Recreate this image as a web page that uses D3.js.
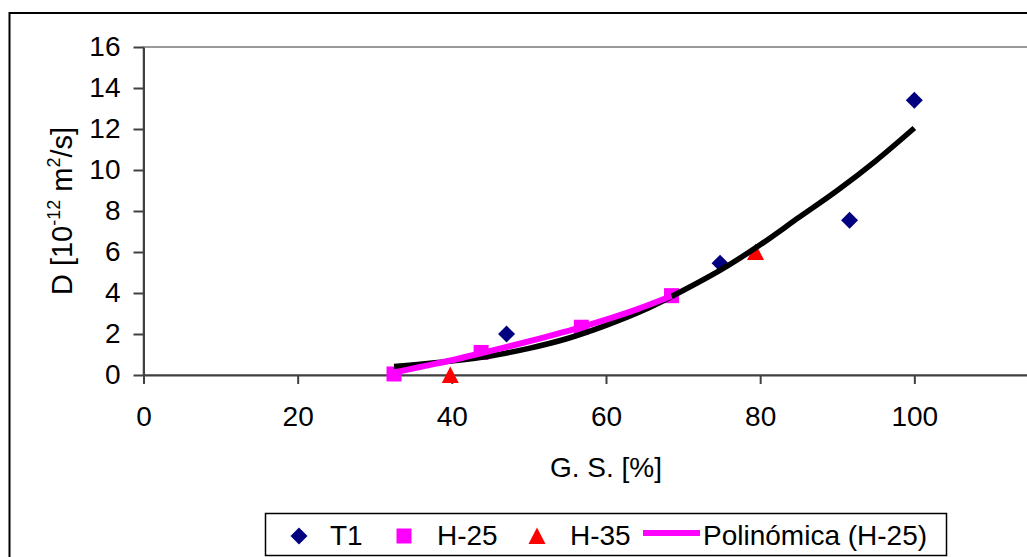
<!DOCTYPE html>
<html><head><meta charset="utf-8">
<script src="https://cdn.jsdelivr.net/npm/d3@7"></script>
<style>
html,body{margin:0;padding:0;background:#fff;overflow:hidden;}
text{font-family:"Liberation Sans",Arial,sans-serif;fill:#000;}
</style></head>
<body>
<script>
// ---- data ----
const t1X = [47.1, 74.8, 91.6, 100];
const t1Y = [2.0, 5.45, 7.55, 13.4];
const h25X = [32.5, 43.8, 56.8, 68.5];
const h25Y = [0.05, 1.1, 2.33, 3.87];
const h35X = [39.8, 79.4];
const h35Y = [0.0, 6.0];
// black trendline, points
const trendAllX = [32.5, 40, 45, 50, 55, 60, 65, 70, 75, 80, 85, 90, 95, 100];
const trendAllY = [0.41, 0.68, 0.93, 1.30, 1.78, 2.42, 3.18, 4.12, 5.15, 6.35, 7.68, 9.00, 10.45, 12.05];
// magenta trendline "Polinómica (H-25)"
const trendH25X = [32.5, 36, 40, 44, 48, 52, 56, 60, 64, 68.5];
const trendH25Y = [0.12, 0.40, 0.72, 1.08, 1.45, 1.84, 2.25, 2.70, 3.20, 3.85];
const xTicks = [0, 20, 40, 60, 80, 100];
const yTicks = [0, 2, 4, 6, 8, 10, 12, 14, 16];
const legendLabels = ["T1", "H-25", "H-35", "Polinómica (H-25)"];

const W = 1027, H = 557;
const svg = d3.select("body").append("svg").attr("width", W).attr("height", H);
svg.append("rect").attr("width", W).attr("height", H).attr("fill", "#fff");
// outer chart border
svg.append("rect").attr("x", 9.5).attr("y", 13).attr("width", 1100).attr("height", 600)
  .attr("fill", "none").attr("stroke", "#000").attr("stroke-width", 2);

const x = d3.scaleLinear().domain([0, 120]).range([143.5, 1068.5]);
const y = d3.scaleLinear().domain([0, 16]).range([375, 47]);

// plot area border (gray)
svg.append("rect").attr("x", x(0)).attr("y", y(16)).attr("width", x(120) - x(0)).attr("height", y(0) - y(16))
  .attr("fill", "none").attr("stroke", "#999").attr("stroke-width", 2);

const fs = 28;
const yAxis = svg.append("g").attr("transform", `translate(${x(0)},0)`)
  .call(d3.axisLeft(y).tickValues(yTicks).tickSize(10).tickSizeOuter(0).tickPadding(13));
const xAxis = svg.append("g").attr("transform", `translate(0,${y(0)})`)
  .call(d3.axisBottom(x).tickValues(xTicks).tickSize(9).tickSizeOuter(0).tickPadding(22));
[yAxis, xAxis].forEach(g => {
  g.select(".domain").attr("stroke", "#404040").attr("stroke-width", 2);
  g.selectAll(".tick line").attr("stroke", "#404040").attr("stroke-width", 2);
  g.selectAll(".tick text").attr("font-size", fs).attr("font-family", "Liberation Sans, Arial").attr("fill", "#000");
});

// axis titles
svg.append("text").attr("x", 606).attr("y", 477).attr("text-anchor", "middle").attr("font-size", fs)
  .text("G. S. [%]");
const yl = svg.append("text").attr("transform", "translate(72,211) rotate(-90)")
  .attr("text-anchor", "middle").attr("font-size", 29);
yl.append("tspan").text("D [10");
yl.append("tspan").attr("font-size", 18).attr("dy", -12).text("-12");
yl.append("tspan").attr("dy", 12).text(" m");
yl.append("tspan").attr("font-size", 18).attr("dy", -12).text("2");
yl.append("tspan").attr("dy", 12).text("/s]");

// marker shapes
const diamond = "M0,-8.5L8.5,0L0,8.5L-8.5,0Z";
const triangle = "M0,-8.5L8.5,8L-8.5,8Z";
const NAVY = "#000080", MAG = "#ff00ff", RED = "#ff0000";

const plot = svg.append("g");
plot.selectAll(".t1").data(d3.range(t1X.length)).join("path")
  .attr("d", diamond).attr("fill", NAVY)
  .attr("transform", i => `translate(${x(t1X[i])},${y(t1Y[i])})`);
plot.selectAll(".h25").data(d3.range(h25X.length)).join("rect")
  .attr("x", i => x(h25X[i]) - 7.5).attr("y", i => y(h25Y[i]) - 7.5)
  .attr("width", 15).attr("height", 15).attr("fill", MAG);
plot.selectAll(".h35").data(d3.range(h35X.length)).join("path")
  .attr("d", triangle).attr("fill", RED)
  .attr("transform", i => `translate(${x(h35X[i])},${y(h35Y[i])})`);

const line = d3.line().x(d => x(d[0])).y(d => y(d[1])).curve(d3.curveMonotoneX);
plot.append("path").datum(trendAllX.map((v, i) => [v, trendAllY[i]]))
  .attr("d", line).attr("fill", "none").attr("stroke", "#000").attr("stroke-width", 5.5);
plot.append("path").datum(trendH25X.map((v, i) => [v, trendH25Y[i]]))
  .attr("d", line).attr("fill", "none").attr("stroke", MAG).attr("stroke-width", 6);

// legend
const lg = svg.append("g");
lg.append("rect").attr("x", 265.5).attr("y", 513.5).attr("width", 681).attr("height", 42)
  .attr("fill", "#fff").attr("stroke", "#000").attr("stroke-width", 1.5);
const ly = 536;
lg.append("path").attr("d", diamond).attr("fill", NAVY).attr("transform", `translate(299,${ly})`);
lg.append("rect").attr("x", 396.5).attr("y", ly - 7.5).attr("width", 15).attr("height", 15).attr("fill", MAG);
lg.append("path").attr("d", triangle).attr("fill", RED).attr("transform", `translate(537,${ly})`);
lg.append("line").attr("x1", 643).attr("x2", 700).attr("y1", 533).attr("y2", 533)
  .attr("stroke", MAG).attr("stroke-width", 6);
const lx = [330, 437, 570, 703];
legendLabels.forEach((t, i) => {
  lg.append("text").attr("x", lx[i]).attr("y", 545).attr("font-size", fs).text(t);
});
</script>
</body></html>
